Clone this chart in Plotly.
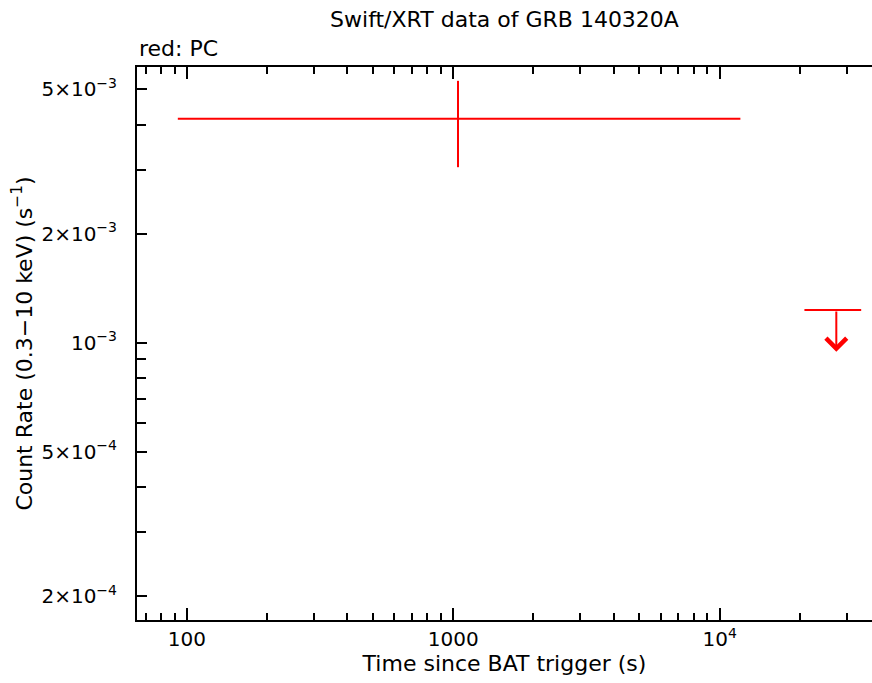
import numpy as np
import plotly.graph_objects as go

# ---- data ----
pc_time = [1042.0]
pc_time_lo = [92.5]
pc_time_hi = [11960.0]
pc_rate = [4.15e-3]
pc_rate_lo = [3.05e-3]
pc_rate_hi = [5.28e-3]

ul_time = [27400.0]
ul_time_lo = [20800.0]
ul_time_hi = [33970.0]
ul_rate = [1.231e-3]

x_major_vals = [100, 1000, 10000]
x_major_text = ["100", "1000", "10<sup>4</sup>"]
x_minor_vals = [70, 80, 90, 200, 300, 400, 500, 600, 700, 800, 900,
                2000, 3000, 4000, 5000, 6000, 7000, 8000, 9000, 20000, 30000]
y_major_vals = [2e-4, 5e-4, 1e-3, 2e-3, 5e-3]
y_major_text = ["2×10<sup>−4</sup>", "5×10<sup>−4</sup>", "10<sup>−3</sup>",
                "2×10<sup>−3</sup>", "5×10<sup>−3</sup>"]
y_minor_vals = [3e-4, 4e-4, 6e-4, 7e-4, 8e-4, 9e-4, 3e-3, 4e-3]

x_range = [65, 37300]
y_range = [1.717e-4, 5.765e-3]

ARROW_FRACTION = 0.767
RED = "#ff0000"
FONT = "DejaVu Sans"

fig = go.Figure()

# PC detection with error bars
fig.add_trace(go.Scatter(
    x=pc_time, y=pc_rate, mode="markers",
    marker=dict(size=1, color=RED),
    error_x=dict(type="data", symmetric=False,
                 array=[h - t for h, t in zip(pc_time_hi, pc_time)],
                 arrayminus=[t - l for t, l in zip(pc_time, pc_time_lo)],
                 color=RED, thickness=2, width=0),
    error_y=dict(type="data", symmetric=False,
                 array=[h - r for h, r in zip(pc_rate_hi, pc_rate)],
                 arrayminus=[r - l for r, l in zip(pc_rate, pc_rate_lo)],
                 color=RED, thickness=2, width=0),
    showlegend=False, hoverinfo="skip"))

# upper limit horizontal bar
fig.add_trace(go.Scatter(
    x=ul_time, y=ul_rate, mode="markers",
    marker=dict(size=1, color=RED),
    error_x=dict(type="data", symmetric=False,
                 array=[h - t for h, t in zip(ul_time_hi, ul_time)],
                 arrayminus=[t - l for t, l in zip(ul_time, ul_time_lo)],
                 color=RED, thickness=2, width=0),
    showlegend=False, hoverinfo="skip"))

# upper limit arrows
for t, r in zip(ul_time, ul_rate):
    fig.add_annotation(
        x=np.log10(t), y=np.log10(r * ARROW_FRACTION),
        ax=np.log10(t), ay=np.log10(r),
        xref="x", yref="y", axref="x", ayref="y",
        text="", showarrow=True, arrowhead=4, arrowsize=2,
        arrowwidth=2, arrowcolor=RED, standoff=0, startstandoff=0)

fig.add_annotation(
    text="red: PC", xref="paper", yref="paper", x=0, y=1,
    xanchor="left", yanchor="bottom", yshift=4, showarrow=False,
    font=dict(family=FONT, size=22, color="black"))

fig.update_layout(
    width=872, height=683,
    margin=dict(l=137, r=0, t=67, b=63),
    paper_bgcolor="white", plot_bgcolor="white",
    title=dict(text="Swift/XRT data of GRB 140320A", x=0.5, xref="paper",
               xanchor="center", y=1 - 19 / 683, yanchor="middle",
               font=dict(family=FONT, size=22, color="black")),
    font=dict(family=FONT, color="black"),
)

fig.update_xaxes(
    type="log", range=[np.log10(x_range[0]), np.log10(x_range[1])],
    showgrid=False, zeroline=False,
    showline=True, linecolor="black", linewidth=2, mirror="ticks",
    ticks="inside", ticklen=12, tickwidth=2, tickcolor="black",
    tickmode="array", tickvals=x_major_vals, ticktext=x_major_text,
    tickfont=dict(family=FONT, size=20, color="black"),
    minor=dict(tickmode="array", tickvals=x_minor_vals, ticks="inside",
               ticklen=7, tickwidth=2, tickcolor="black", showgrid=False),
    title=dict(text="Time since BAT trigger (s)",
               font=dict(family=FONT, size=22, color="black"), standoff=6),
)

fig.update_yaxes(
    type="log", range=[np.log10(y_range[0]), np.log10(y_range[1])],
    showgrid=False, zeroline=False,
    showline=True, linecolor="black", linewidth=2, mirror=False,
    ticks="inside", ticklen=10, tickwidth=2, tickcolor="black",
    tickmode="array", tickvals=y_major_vals, ticktext=y_major_text,
    tickfont=dict(family=FONT, size=20, color="black"),
    ticklabelstandoff=14,
    minor=dict(tickmode="array", tickvals=y_minor_vals, ticks="inside",
               ticklen=9, tickwidth=2, tickcolor="black", showgrid=False),
    title=dict(text="Count Rate (0.3−10 keV) (s<sup>−1</sup>)",
               font=dict(family=FONT, size=22, color="black"), standoff=3),
)

fig.write_html(
    "out.html",
    config={"displayModeBar": False},
    post_script="document.body.style.margin='0';document.body.style.overflow='hidden';",
)
